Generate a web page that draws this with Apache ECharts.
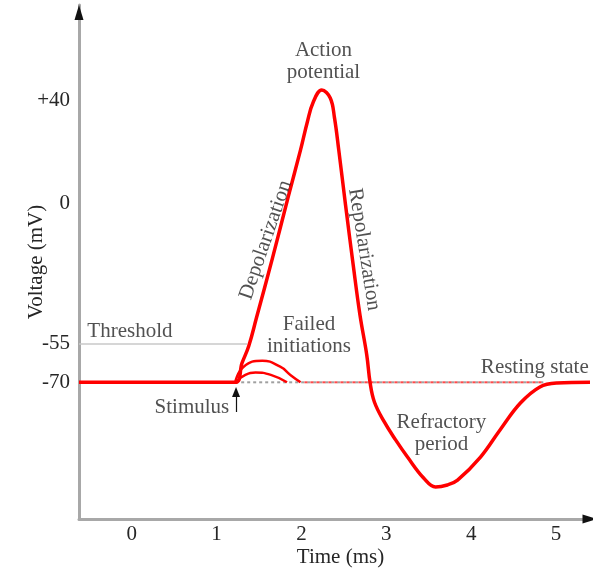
<!DOCTYPE html>
<html><head><meta charset="utf-8">
<script src="https://cdn.jsdelivr.net/npm/echarts@6/dist/echarts.min.js"></script>
<style>html,body{margin:0;padding:0;background:#fff}#c{width:593px;height:570px}</style>
</head><body><div id="c"></div>
<script>
// ---- data (time in ms, voltage in mV) ----
const apTime = [-0.62, 1.22, 1.30, 1.38, 1.47, 1.66, 1.85, 1.99, 2.07, 2.14, 2.24, 2.34, 2.39, 2.44, 2.52, 2.61, 2.69, 2.77, 2.81, 2.86, 2.97, 3.11, 3.25, 3.44, 3.58, 3.72, 3.84, 4.11, 4.34, 4.58, 4.81, 5.01, 5.40];
const apVoltage = [-70, -70, -62.5, -55.8, -44.9, -21.4, 3.1, 20.8, 31.7, 39.5, 44.2, 41.1, 33.3, 20.8, -0.7, -24.1, -43.7, -59.3, -70.3, -77.7, -85.1, -92.5, -99.2, -107.4, -110.9, -110.1, -108.2, -99.2, -88.6, -78.1, -71.8, -70.3, -70];
const failedHighTime = [1.22, 1.32, 1.54, 1.75, 1.87, 1.99];
const failedHighVoltage = [-70, -63.9, -61.6, -63.9, -67.1, -70];
const failedLowTime = [1.22, 1.34, 1.46, 1.64, 1.83];
const failedLowVoltage = [-70, -67.1, -66.2, -67.1, -70];
const restingVoltage = -70;
const thresholdVoltage = -55;
const thresholdSpan = [-0.62, 1.36];
const restingGraySpan = [1.22, 4.85];
const restingRedSpan = [2.0, 4.85];
const stimulusTime = 1.23;
const stimulusArrowSpan = [-81.6, -73.8];
const xTickValues = [0, 1, 2, 3, 4, 5];
const xTickLabels = ['0', '1', '2', '3', '4', '5'];
const yTickValues = [40, 0, -55, -70];
const yTickLabels = ['+40', '0', '-55', '-70'];
const annotationTexts = ['Action\npotential', 'Depolarization', 'Repolarization', 'Threshold', 'Failed\ninitiations', 'Stimulus', 'Resting state', 'Refractory\nperiod'];
const annotationTime = [2.26, 1.58, 2.74, -0.02, 2.09, 0.71, 4.75, 3.65];
const annotationVoltage = [55.5, -14.4, -18.1, -50.0, -51.9, -80.0, -64.2, -89.8];
const annotationRotate = [0, 71, -81, 0, 0, 0, 0, 0];

// ---- chart ----
const pairs = (xs, ys) => xs.map((x, i) => [x, ys[i]]);
const FONT = 'Liberation Serif';
const TXT = '#262626';
const RED = '#ff0000';
const X_MIN = -0.62, X_MAX = 5.4, Y_MIN = -123.4, Y_MAX = 77.4;

const chart = echarts.init(document.getElementById('c'), null, {renderer: 'canvas'});
chart.setOption({
  animation: false,
  backgroundColor: '#fff',
  grid: {left: 79, right: 3, top: 5, bottom: 51, containLabel: false, outerBoundsMode: 'none'},
  xAxis: [{
    type: 'value', position: 'bottom', min: X_MIN, max: X_MAX,
    axisLine: {show: true, onZero: false, lineStyle: {color: '#a8a8a8', width: 3}},
    axisTick: {show: false}, splitLine: {show: false},
    axisLabel: {customValues: xTickValues, formatter: v => xTickLabels[xTickValues.indexOf(v)],
      color: TXT, fontFamily: FONT, fontSize: 21, margin: 5},
    name: 'Time (ms)', nameLocation: 'middle', nameGap: 28, nameMoveOverlap: false,
    nameTextStyle: {color: TXT, fontFamily: FONT, fontSize: 21, padding: [0, 0, 0, 12]}
  }, {
    type: 'value', position: 'bottom', min: X_MIN, max: X_MAX,
    axisLine: {show: true, onZero: false, symbol: ['none', 'triangle'], symbolSize: [9, 15], symbolOffset: [0, 0],
      lineStyle: {color: '#111', width: 0}},
    axisTick: {show: false}, splitLine: {show: false}, axisLabel: {show: false}
  }],
  yAxis: [{
    type: 'value', position: 'left', min: Y_MIN, max: Y_MAX,
    axisLine: {show: true, onZero: false, lineStyle: {color: '#a8a8a8', width: 3}},
    axisTick: {show: false}, splitLine: {show: false},
    axisLabel: {customValues: yTickValues, formatter: v => yTickLabels[yTickValues.indexOf(v)],
      color: TXT, fontFamily: FONT, fontSize: 21, margin: 9},
    name: 'Voltage (mV)', nameLocation: 'middle', nameGap: 32, nameRotate: 90, nameMoveOverlap: false,
    nameTextStyle: {color: TXT, fontFamily: FONT, fontSize: 21}
  }, {
    type: 'value', position: 'left', min: Y_MIN, max: Y_MAX,
    axisLine: {show: true, onZero: false, symbol: ['none', 'triangle'], symbolSize: [9, 15], symbolOffset: [0, -7.5],
      lineStyle: {color: '#111', width: 0}},
    axisTick: {show: false}, splitLine: {show: false}, axisLabel: {show: false}
  }],
  series: [
    {type: 'line', symbol: 'none', silent: true, z: 1,
      data: thresholdSpan.map(t => [t, thresholdVoltage]),
      lineStyle: {color: '#c8c8c8', width: 1.5}},
    {type: 'line', symbol: 'none', silent: true, z: 1,
      data: restingGraySpan.map(t => [t, restingVoltage]),
      lineStyle: {color: '#a0a0a0', width: 2, type: [3, 3]}},
    {type: 'line', symbol: 'none', silent: true, z: 1,
      data: restingRedSpan.map(t => [t, restingVoltage]),
      lineStyle: {color: '#ff4a4a', width: 2, type: [3, 3], dashOffset: 3}},
    {type: 'line', symbol: 'none', silent: true, smooth: 0.5, z: 2,
      data: pairs(failedHighTime, failedHighVoltage),
      lineStyle: {color: RED, width: 2.5}},
    {type: 'line', symbol: 'none', silent: true, smooth: 0.5, z: 2,
      data: pairs(failedLowTime, failedLowVoltage),
      lineStyle: {color: RED, width: 2.5}},
    {type: 'line', symbol: 'none', silent: true, smooth: 0.4, z: 3,
      data: pairs(apTime, apVoltage),
      lineStyle: {color: RED, width: 3.5, join: 'round'},
      markLine: {silent: true, symbol: ['none', 'triangle'], symbolSize: [8, 10], label: {show: false},
        lineStyle: {color: '#111', width: 1.2, type: 'solid'},
        data: [[{coord: [stimulusTime, stimulusArrowSpan[0]]}, {coord: [stimulusTime, stimulusArrowSpan[1]]}]]}},
    {type: 'scatter', silent: true, symbolSize: 1, itemStyle: {color: 'rgba(0,0,0,0)'}, z: 5,
      data: annotationTexts.map((txt, i) => ({
        value: [annotationTime[i], annotationVoltage[i]],
        label: {show: true, position: 'inside', formatter: txt, rotate: annotationRotate[i],
          color: TXT, fontFamily: FONT, fontSize: 21, lineHeight: 22, align: 'center', verticalAlign: 'middle'}
      }))}
  ]
});
</script></body></html>
